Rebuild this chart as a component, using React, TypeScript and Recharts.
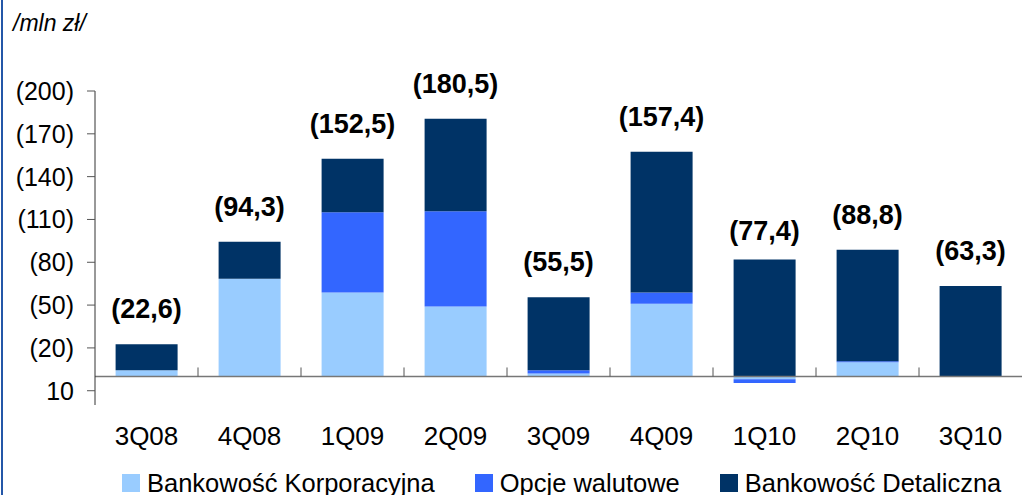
import {
    ComposedChart,
    Bar,
    Line,
    XAxis,
    YAxis,
    ReferenceLine,
    LabelList,
    Legend,
} from 'recharts';

const quarters = ['3Q08', '4Q08', '1Q09', '2Q09', '3Q09', '4Q09', '1Q10', '2Q10', '3Q10'];
const corporate = [4.4, 68.4, 58.8, 49.1, 2.1, 50.9, -2.0, 10.0, 0];
const fxOptions = [0, 0, 56.3, 66.7, 2.3, 7.9, -2.5, 0.7, 0];
const retail = [18.2, 25.9, 37.4, 64.7, 51.1, 98.6, 81.9, 78.1, 63.3];
const totals = [22.6, 94.3, 152.5, 180.5, 55.5, 157.4, 77.4, 88.8, 63.3];

const seriesNames = ['Bankowość Korporacyjna', 'Opcje walutowe', 'Bankowość Detaliczna'];
const seriesColors = ['#99ccff', '#3366ff', '#003366'];
const yTicks = [-10, 20, 50, 80, 110, 140, 170, 200];

const data = quarters.map((q, i) => ({
    quarter: q,
    corporate: corporate[i],
    fx: fxOptions[i],
    retail: retail[i],
    total: totals[i],
}));

const FONT = '"Liberation Sans", Arial, sans-serif';

// 152.5 -> "152,5"
const fmtPl = (v: number) => v.toFixed(1).replace('.', ',');

const QuarterTick = ({ x, y, payload }: any) => (
    <text x={x} y={y + 40} textAnchor="middle" fontSize={26} fill="#000" fontFamily={FONT}>
        {payload.value}
    </text>
);

const TotalLabel = ({ x, y, value }: any) => (
    <text
        x={x}
        y={y - 26}
        textAnchor="middle"
        fontSize={27}
        fontWeight="bold"
        fill="#000"
        fontFamily={FONT}
    >
        ({fmtPl(value)})
    </text>
);

const LegendContent = () => (
    <div
        style={{
            display: 'flex',
            paddingLeft: 122,
            fontFamily: FONT,
            fontSize: 25.5,
            lineHeight: '18px',
            color: '#000',
            whiteSpace: 'nowrap',
        }}
    >
        {seriesNames.map((name, i) => (
            <div key={name} style={{ display: 'flex', alignItems: 'flex-start', marginRight: 40 }}>
                <span
                    style={{
                        display: 'inline-block',
                        width: 18,
                        height: 18,
                        background: seriesColors[i],
                        marginRight: 7,
                    }}
                />
                <span>{name}</span>
            </div>
        ))}
    </div>
);

export default function App() {
    return (
        <div
            style={{
                position: 'absolute',
                left: 0,
                top: 0,
                width: 1023,
                height: 495,
                overflow: 'hidden',
                background: '#fff',
                fontFamily: FONT,
            }}
        >
            <div
                style={{
                    position: 'absolute',
                    left: 1,
                    top: 0,
                    width: 2,
                    height: 495,
                    background: '#2457a8',
                }}
            />
            <div
                style={{
                    position: 'absolute',
                    left: 13,
                    top: 12,
                    fontSize: 23,
                    lineHeight: '23px',
                    fontStyle: 'italic',
                    color: '#000',
                }}
            >
                /mln zł/
            </div>
            <ComposedChart
                width={1023}
                height={495}
                data={data}
                stackOffset="sign"
                barCategoryGap="20%"
                margin={{ top: 91, right: 1, bottom: 60, left: 0 }}
            >
                <XAxis
                    dataKey="quarter"
                    axisLine={false}
                    tickLine={false}
                    tickSize={0}
                    tickMargin={0}
                    height={30}
                    interval={0}
                    tick={<QuarterTick />}
                />
                <YAxis
                    type="number"
                    domain={[-20, 200]}
                    ticks={yTicks}
                    interval={0}
                    width={95}
                    tickSize={8}
                    tickMargin={13}
                    axisLine={{ stroke: '#333' }}
                    tickLine={{ stroke: '#555' }}
                    tick={{ fontSize: 25, fill: '#000', fontFamily: FONT }}
                    tickFormatter={(v: number) => (v < 0 ? String(-v) : `(${v})`)}
                />
                <Bar dataKey="corporate" stackId="a" fill={seriesColors[0]} isAnimationActive={false} />
                <Bar dataKey="fx" stackId="a" fill={seriesColors[1]} isAnimationActive={false} />
                <Bar dataKey="retail" stackId="a" fill={seriesColors[2]} isAnimationActive={false} />
                <ReferenceLine y={0} stroke="#777" strokeWidth={1.5} />
                {quarters.slice(1).map((q) => (
                    <ReferenceLine
                        key={q}
                        segment={[
                            { x: q, y: 0 },
                            { x: q, y: 6.3 },
                        ]}
                        position="start"
                        stroke="#555"
                    />
                ))}
                <Line
                    dataKey="total"
                    stroke="none"
                    dot={false}
                    activeDot={false}
                    isAnimationActive={false}
                >
                    <LabelList dataKey="total" content={<TotalLabel />} />
                </Line>
                <Legend
                    verticalAlign="middle"
                    align="center"
                    wrapperStyle={{ top: 474, left: 0, width: 1023, height: 20 }}
                    content={<LegendContent />}
                />
            </ComposedChart>
        </div>
    );
}
